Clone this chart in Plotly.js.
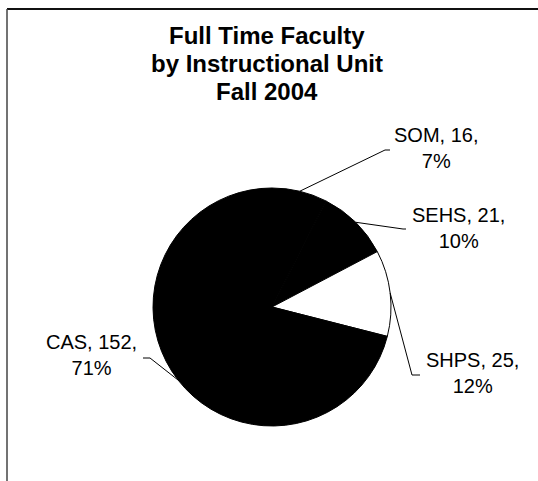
<!DOCTYPE html>
<html>
<head>
<meta charset="utf-8">
<script src="https://cdn.plot.ly/plotly-3.0.1.min.js"></script>
<style>
  html, body { margin: 0; padding: 0; background: #fff; }
  #chart { width: 538px; height: 481px; }
</style>
</head>
<body>
<div id="chart"></div>
<script>
// ---- data ----
const units = ["SOM", "SEHS", "SHPS", "CAS"];
const faculty = [16, 21, 25, 152];
const sliceColors = ["#000000", "#000000", "#ffffff", "#000000"];
const titleLines = ["Full Time Faculty", "by Instructional Unit", "Fall 2004"];

// ---- layout constants (pixels) ----
const W = 538, H = 481;
const CX = 272, CY = 307, R = 119;
const titleX = 267, titleY = [35, 63, 91];
// label block centre and leader elbow / end points, per unit
const labelPos = {
  SOM:  {tx: 436, ty: 148, elbow: [385, 150], end: [390, 150]},
  SEHS: {tx: 458, ty: 228, elbow: [403, 229], end: [406, 229]},
  SHPS: {tx: 472, ty: 373, elbow: [412, 375], end: [420, 375]},
  CAS:  {tx: 91,  ty: 355, elbow: [150, 358], end: [143, 358]}
};

const px = x => x / W;
const py = y => 1 - y / H;

const total = faculty.reduce((a, b) => a + b, 0);

const trace = {
  type: "pie",
  labels: units,
  values: faculty,
  sort: false,
  direction: "clockwise",
  rotation: 0,
  marker: { colors: sliceColors, line: { color: "#000000", width: 1 } },
  textinfo: "none",
  hoverinfo: "none",
  showlegend: false,
  domain: { x: [px(CX - R), px(CX + R)], y: [py(CY + R), py(CY - R)] }
};

// leader lines and labels computed from slice angles
const shapes = [];
const annotations = [];
let cum = 0;
units.forEach((u, i) => {
  const frac = faculty[i] / total;
  const midDeg = 90 - (cum + frac / 2) * 360; // clockwise from 12 o'clock
  cum += frac;
  const a = midDeg * Math.PI / 180;
  const ex = CX + R * Math.cos(a);
  const ey = CY - R * Math.sin(a);
  const lp = labelPos[u];
  shapes.push({
    type: "path", xref: "paper", yref: "paper",
    path: `M ${px(ex)} ${py(ey)} L ${px(lp.elbow[0])} ${py(lp.elbow[1])} L ${px(lp.end[0])} ${py(lp.end[1])}`,
    line: { color: "#000000", width: 1 }
  });
  const pct = Math.round(frac * 100);
  annotations.push({
    xref: "paper", yref: "paper",
    x: px(lp.tx), y: py(lp.ty),
    xanchor: "center", yanchor: "middle",
    showarrow: false,
    text: `${u}, ${faculty[i]},<br>${pct}%`,
    font: { family: "Liberation Sans, Arial, sans-serif", size: 20, color: "#000000" },
    align: "center"
  });
});

// title, one annotation per line
titleLines.forEach((t, i) => {
  annotations.push({
    xref: "paper", yref: "paper",
    x: px(titleX), y: py(titleY[i]),
    xanchor: "center", yanchor: "middle",
    showarrow: false,
    text: `<b>${t}</b>`,
    font: { family: "Liberation Sans, Arial, sans-serif", size: 24, color: "#000000" },
    align: "center"
  });
});

// frame
shapes.push({ type: "line", xref: "paper", yref: "paper",
  x0: px(7), y0: py(9), x1: px(W + 2), y1: py(9), line: { color: "#111111", width: 2 } });
shapes.push({ type: "line", xref: "paper", yref: "paper",
  x0: px(7), y0: py(9), x1: px(7), y1: py(H + 2), line: { color: "#444444", width: 1.5 } });

const layout = {
  width: W, height: H,
  margin: { l: 0, r: 0, t: 0, b: 0 },
  paper_bgcolor: "#ffffff",
  plot_bgcolor: "#ffffff",
  shapes: shapes,
  annotations: annotations
};

Plotly.newPlot("chart", [trace], layout, { displayModeBar: false, staticPlot: true });
</script>
</body>
</html>
